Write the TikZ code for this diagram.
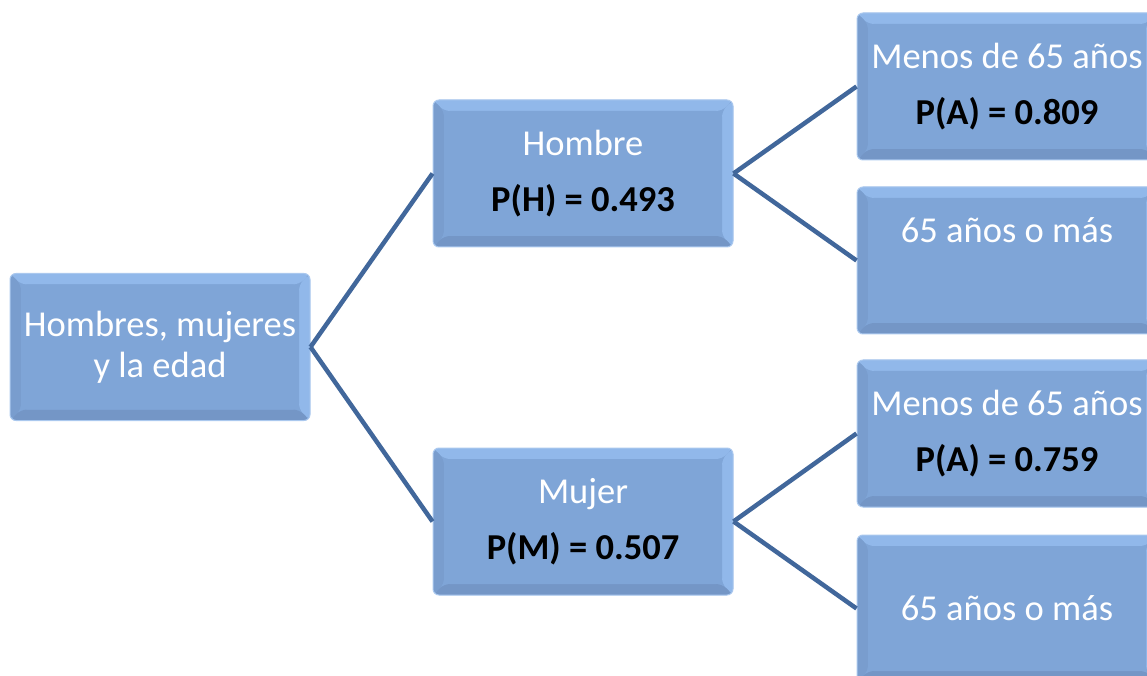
\documentclass[tikz,border=0pt]{standalone}
\usepackage{fontspec}
\setmainfont{Carlito}
\usepackage{tikz}
\definecolor{cajafondo}{RGB}{127,165,215}
\definecolor{cajaborde}{RGB}{170,200,238}
\definecolor{bisclaro}{RGB}{145,184,234}
\definecolor{bisoscuro}{RGB}{116,150,198}
\definecolor{bisgris}{RGB}{121,157,206}
\definecolor{rama}{RGB}{65,103,155}

\newcommand{\bisel}{%
	%esquinas de la caja
	\coordinate (nw) at (path picture bounding box.north west);
	\coordinate (ne) at (path picture bounding box.north east);
	\coordinate (sw) at (path picture bounding box.south west);
	\coordinate (se) at (path picture bounding box.south east);
	%caras del bisel
	\fill[bisclaro] (nw) -- (ne) -- ([shift={(-11,-11)}]ne) -- ([shift={(11,-11)}]nw) -- cycle;
	\fill[bisclaro] (ne) -- (se) -- ([shift={(-11,11)}]se) -- ([shift={(-11,-11)}]ne) -- cycle;
	\fill[bisgris] (nw) -- (sw) -- ([shift={(11,11)}]sw) -- ([shift={(11,-11)}]nw) -- cycle;
	\fill[bisoscuro] (sw) -- (se) -- ([shift={(-11,11)}]se) -- ([shift={(11,11)}]sw) -- cycle;
	\fill[cajafondo] ([shift={(11,11)}]sw) rectangle ([shift={(-11,-11)}]ne);
}

\begin{document}
\begin{tikzpicture}[x=1pt, y=1pt,
	caja/.style={rectangle, rounded corners=6pt, minimum width=300pt, minimum height=147pt,
		fill=cajafondo, draw=cajaborde, line width=1pt, text=white, align=center,
		font=\fontsize{36.5}{41}\selectfont, inner sep=0pt, path picture={\bisel}},
	linea/.style={draw=rama, line width=4.5pt}]

	\useasboundingbox (0,0) rectangle (1147,675);
	\clip (0,0) rectangle (1147,675);

	%raiz
	\node[caja] (raiz) at (160,328) {Hombres, mujeres\\y la edad};

	%primer nivel
	\node[caja] (hombre) at (583,501.5) {Hombre\\[15pt]{\color{black}\bfseries P(H) = 0.493}};
	\node[caja] (mujer) at (583,153.5) {Mujer\\[15pt]{\color{black}\bfseries P(M) = 0.507}};

	%segundo nivel
	\node[caja] (hmenos) at (1007,588.5) {Menos de 65 años\\[15pt]{\color{black}\bfseries P(A) = 0.809}};
	\node[caja] (hmas) at (1007,414.5) {65 años o más\\[15pt]\phantom{\bfseries P(A) = 0.000}};
	\node[caja] (mmenos) at (1007,241.5) {Menos de 65 años\\[15pt]{\color{black}\bfseries P(A) = 0.759}};
	\node[caja] (mmas) at (1007,66.5) {65 años o más};

	%ramas
	\draw[linea] (raiz.east) -- (hombre.west);
	\draw[linea] (raiz.east) -- (mujer.west);
	\draw[linea] (hombre.east) -- (hmenos.west);
	\draw[linea] (hombre.east) -- (hmas.west);
	\draw[linea] (mujer.east) -- (mmenos.west);
	\draw[linea] (mujer.east) -- (mmas.west);

\end{tikzpicture}
\end{document}
